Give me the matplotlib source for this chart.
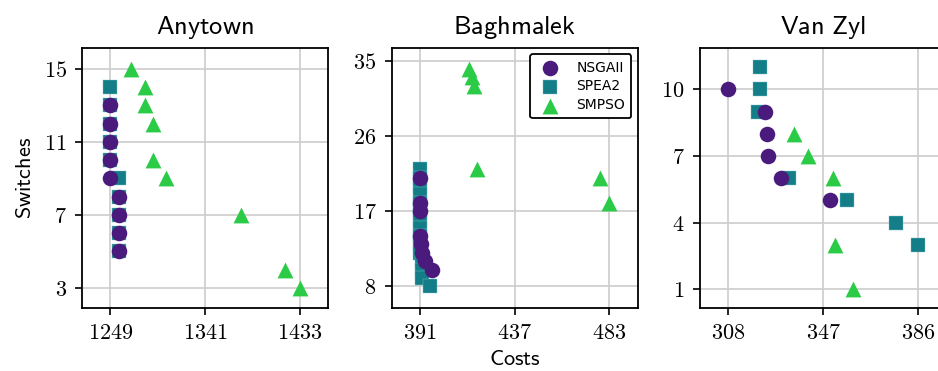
import matplotlib
matplotlib.use("Agg")
import matplotlib.pyplot as plt

plt.rcParams['mathtext.fontset'] = 'cm'

# Anytown
any_nsga_x = [1249, 1249, 1249, 1249, 1249, 1257, 1257, 1257, 1257]
any_nsga_y = [13, 12, 11, 10, 9, 8, 7, 6, 5]
any_spea_x = [1249, 1249, 1249, 1249, 1249, 1257, 1257, 1257, 1257, 1257]
any_spea_y = [14, 13, 12, 11, 10, 9, 8, 7, 6, 5]
any_smpso_x = [1269, 1283, 1283, 1290, 1290, 1303, 1376, 1419, 1433]
any_smpso_y = [15, 14, 13, 12, 10, 9, 7, 4, 3]

# Baghmalek
bag_nsga_x = [391, 391, 391, 391, 391.5, 392, 393.5, 397]
bag_nsga_y = [21, 18, 17, 14, 13, 12, 11, 10]
bag_spea_x = [391, 391, 391, 391, 391, 391, 391, 391, 391, 391, 391, 392, 392, 392, 396]
bag_spea_y = [22, 21, 20, 19, 18, 17, 16, 15, 14, 13, 12, 11, 10, 9, 8]
bag_smpso_x = [415, 416, 417, 418.5, 478.5, 483]
bag_smpso_y = [34, 33, 32, 22, 21, 18]

# Van Zyl
vz_nsga_x = [308, 323, 324, 324.5, 329.5, 350]
vz_nsga_y = [10, 9, 8, 7, 6, 5]
vz_spea_x = [321, 321, 320, 333, 357, 377, 386]
vz_spea_y = [11, 10, 9, 6, 5, 4, 3]
vz_smpso_x = [335, 341, 351, 352, 359.5]
vz_smpso_y = [8, 7, 6, 3, 1]

titles = ["Anytown", "Baghmalek", "Van\\ Zyl"]
xticks = [[1249, 1341, 1433], [391, 437, 483], [308, 347, 386]]
yticks = [[3, 7, 11, 15], [8, 17, 26, 35], [1, 4, 7, 10]]
ylims = [(1.89, 16.15), (5.4, 36.5), (0.16, 11.86)]

c_nsga = '#4a1a7d'
c_spea = '#137e87'
c_smpso = '#2bcb48'

data = [
    (any_nsga_x, any_nsga_y, any_spea_x, any_spea_y, any_smpso_x, any_smpso_y),
    (bag_nsga_x, bag_nsga_y, bag_spea_x, bag_spea_y, bag_smpso_x, bag_smpso_y),
    (vz_nsga_x, vz_nsga_y, vz_spea_x, vz_spea_y, vz_smpso_x, vz_smpso_y),
]

fig = plt.figure(figsize=(9.38, 3.71), dpi=100)
lefts = [0.0874, 0.4176, 0.7463]

for i, (nx, ny, sx, sy, mx, my) in enumerate(data):
    ax = fig.add_axes([lefts[i], 0.1698, 0.2623, 0.7008])
    ax.scatter(sx, sy, s=115, marker='s', color=c_spea, edgecolor='#7fc4c8', linewidth=0.3, zorder=3, label='SPEA2')
    ax.scatter(nx, ny, s=125, marker='o', color=c_nsga, linewidth=0, zorder=4, label='NSGAII')
    ax.scatter(mx, my, s=130, marker='^', color=c_smpso, linewidth=0, zorder=5, label='SMPSO')

    xt = xticks[i]
    rng = xt[-1] - xt[0]
    ax.set_xlim(xt[0] - 0.15 * rng, xt[-1] + 0.15 * rng)
    ax.set_ylim(*ylims[i])
    ax.set_xticks(xt, labels=['$%d$' % v for v in xt])
    ax.set_yticks(yticks[i], labels=['$%d$' % v for v in yticks[i]])
    ax.tick_params(labelsize=16, length=5, width=1.2, pad=6)
    ax.grid(True, color='#cccccc', linewidth=1.2, zorder=0)
    ax.set_axisbelow(True)
    for sp in ax.spines.values():
        sp.set_linewidth(1.3)
    ax.set_title(r'$\mathsf{%s}$' % titles[i], fontsize=19, pad=10)

    if i == 0:
        ax.set_ylabel(r'$\mathsf{Switches}$', fontsize=16, labelpad=6)
    if i == 1:
        ax.set_xlabel(r'$\mathsf{Costs}$', fontsize=16, labelpad=4)
        h, l = ax.get_legend_handles_labels()
        order = [1, 0, 2]
        leg = ax.legend([h[k] for k in order], [l[k] for k in order], loc='upper right',
                        fontsize=10, frameon=True, fancybox=True, framealpha=1,
                        borderpad=0.45, handletextpad=0.9, borderaxespad=0.45,
                        labelspacing=0.35)
        leg.get_frame().set_edgecolor('black')
        leg.get_frame().set_linewidth(1.3)

fig.savefig('out.png', dpi=100)
